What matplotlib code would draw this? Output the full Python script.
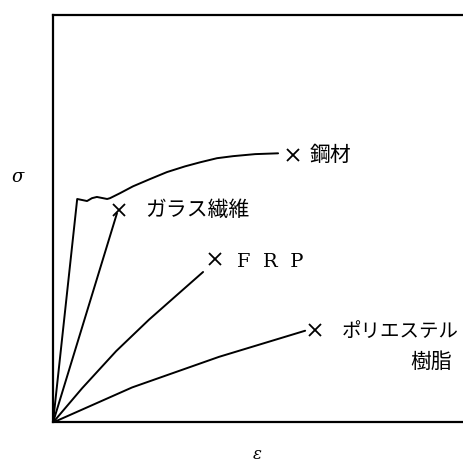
"""Stress-strain sketch: steel, glass fibre, FRP and polyester resin."""
import matplotlib

matplotlib.use("Agg")
import matplotlib.pyplot as plt

plt.rcParams["font.family"] = ["Noto Sans CJK JP", "DejaVu Sans"]

# strain (x) / stress (y) in arbitrary units
steel_x = [0, 5.9, 8.3, 9.5, 10.7, 13.2, 13.9, 16.3, 19.5, 23.7, 27.8, 32.2,
           35.9, 40.0, 43.9, 49.3, 54.9]
steel_y = [0, 54.8, 54.3, 55.0, 55.3, 54.8, 55.0, 56.2, 57.9, 59.7, 61.4, 62.8,
           63.8, 64.8, 65.3, 65.8, 66.0]
glass_x = [0, 15.6]
glass_y = [0, 51.3]
frp_x = [0, 7.1, 15.4, 23.4, 30.5, 36.6]
frp_y = [0, 8.4, 17.5, 25.2, 31.5, 36.9]
poly_x = [0, 19.3, 40.5, 61.5]
poly_y = [0, 8.6, 16.1, 22.5]

# break points (x marks) and their labels
break_x = [58.5, 16.1, 39.5, 63.9]
break_y = [65.5, 52.1, 40.1, 22.7]
labels = ["鋼材", "ガラス繊維", "F  R  P", "ポリエステル"]
label_x = [62.7, 22.4, 44.9, 70.5]
label_y = [65.8, 52.3, 39.6, 22.5]
label_size = [15, 15, 14, 14]

fig = plt.figure(figsize=(4.63, 4.64), dpi=100)
ax = fig.add_axes([0.1145, 0.0873, 0.8855, 0.879])
ax.set_xlim(0, 100)
ax.set_ylim(0, 100)
ax.set_xticks([])
ax.set_yticks([])
ax.spines["right"].set_visible(False)
for side in ["left", "top", "bottom"]:
    ax.spines[side].set_linewidth(1.6)

line_kw = dict(color="black", linewidth=1.4, solid_capstyle="round")
ax.plot(steel_x, steel_y, **line_kw)
ax.plot(glass_x, glass_y, **line_kw)
ax.plot(frp_x, frp_y, **line_kw)
ax.plot(poly_x, poly_y, **line_kw)
ax.plot(break_x, break_y, linestyle="none", marker="x", markersize=8,
        markeredgewidth=1.3, color="black")

for lx, ly, text, size in zip(label_x, label_y, labels, label_size):
    if text.startswith("F"):
        ax.text(lx, ly, text, fontsize=size, family="DejaVu Serif",
                ha="left", va="center")
    else:
        ax.text(lx, ly, text, fontsize=size, ha="left", va="center")
ax.text(97.3, 15.2, "樹脂", fontsize=15, ha="right", va="center")

fig.text(0.039, 0.6185, "σ", fontsize=13, style="italic", family="DejaVu Serif",
         ha="center", va="center")
fig.text(0.555, 0.02, "ε", fontsize=12, style="italic", family="DejaVu Serif",
         ha="center", va="center")

fig.savefig("out.png", dpi=100)
